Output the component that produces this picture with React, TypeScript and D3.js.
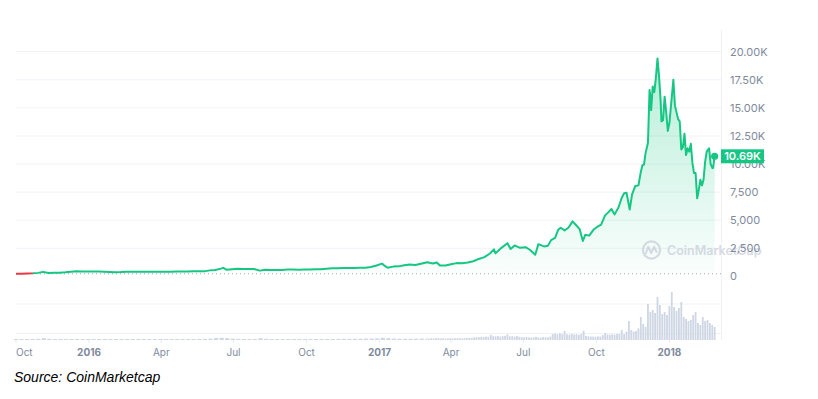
import * as d3 from "d3";

// Bitcoin price (USD)
const PRICES: [string, number][] = [
  ["2015-10-01", 237], ["2015-10-08", 243], ["2015-10-15", 255], ["2015-10-22", 275],
  ["2015-10-29", 314], ["2015-11-04", 403], ["2015-11-11", 305], ["2015-11-18", 335],
  ["2015-11-25", 328], ["2015-12-02", 360], ["2015-12-09", 417], ["2015-12-16", 455],
  ["2015-12-23", 442], ["2015-12-30", 428], ["2016-01-06", 431], ["2016-01-13", 432],
  ["2016-01-20", 420], ["2016-01-27", 395], ["2016-02-03", 370], ["2016-02-10", 381],
  ["2016-02-17", 416], ["2016-02-24", 423], ["2016-03-02", 423], ["2016-03-09", 412],
  ["2016-03-16", 416], ["2016-03-23", 418], ["2016-03-30", 414], ["2016-04-06", 422],
  ["2016-04-13", 424], ["2016-04-20", 442], ["2016-04-27", 446], ["2016-05-04", 446],
  ["2016-05-11", 454], ["2016-05-18", 453], ["2016-05-25", 448], ["2016-06-01", 536],
  ["2016-06-08", 577], ["2016-06-15", 694], ["2016-06-18", 756], ["2016-06-22", 593],
  ["2016-06-29", 640], ["2016-07-06", 670], ["2016-07-13", 655], ["2016-07-20", 665],
  ["2016-07-27", 655], ["2016-08-03", 513], ["2016-08-10", 592], ["2016-08-17", 573],
  ["2016-08-24", 580], ["2016-08-31", 573], ["2016-09-07", 612], ["2016-09-14", 609],
  ["2016-09-21", 595], ["2016-09-28", 604], ["2016-10-05", 611], ["2016-10-12", 636],
  ["2016-10-19", 630], ["2016-10-26", 678], ["2016-11-02", 730], ["2016-11-09", 721],
  ["2016-11-16", 744], ["2016-11-23", 739], ["2016-11-30", 742], ["2016-12-07", 769],
  ["2016-12-14", 780], ["2016-12-21", 834], ["2016-12-28", 975], ["2017-01-04", 1135],
  ["2017-01-08", 910], ["2017-01-11", 777], ["2017-01-18", 871], ["2017-01-25", 893],
  ["2017-02-01", 989], ["2017-02-08", 1052], ["2017-02-15", 1008], ["2017-02-22", 1120],
  ["2017-03-02", 1255], ["2017-03-09", 1150], ["2017-03-14", 1243], ["2017-03-18", 965],
  ["2017-03-25", 965], ["2017-04-01", 1080], ["2017-04-08", 1182], ["2017-04-15", 1180],
  ["2017-04-22", 1231], ["2017-04-29", 1347], ["2017-05-06", 1555], ["2017-05-13", 1720],
  ["2017-05-20", 2040], ["2017-05-25", 2410], ["2017-05-27", 2050], ["2017-06-03", 2520],
  ["2017-06-11", 2958], ["2017-06-15", 2440], ["2017-06-20", 2760], ["2017-06-27", 2540],
  ["2017-07-04", 2600], ["2017-07-10", 2330], ["2017-07-16", 1930], ["2017-07-20", 2870],
  ["2017-07-27", 2670], ["2017-08-01", 2720], ["2017-08-05", 3230], ["2017-08-10", 3420],
  ["2017-08-14", 4160], ["2017-08-17", 4330], ["2017-08-22", 4090], ["2017-08-27", 4350],
  ["2017-09-01", 4900], ["2017-09-05", 4600], ["2017-09-10", 4200], ["2017-09-14", 3150],
  ["2017-09-17", 3700], ["2017-09-22", 3630], ["2017-09-28", 4200], ["2017-10-02", 4400],
  ["2017-10-07", 4600], ["2017-10-12", 5430], ["2017-10-16", 5700], ["2017-10-20", 6000],
  ["2017-10-24", 5520], ["2017-10-29", 6150], ["2017-11-02", 7000], ["2017-11-05", 7400],
  ["2017-11-08", 7450], ["2017-11-12", 5950], ["2017-11-15", 7300], ["2017-11-19", 8040],
  ["2017-11-23", 8100], ["2017-11-26", 9300], ["2017-11-28", 9900], ["2017-11-30", 9950],
  ["2017-12-02", 10970], ["2017-12-05", 11900], ["2017-12-07", 16600], ["2017-12-08", 16000],
  ["2017-12-09", 14800], ["2017-12-11", 16900], ["2017-12-13", 16400], ["2017-12-15", 17700],
  ["2017-12-17", 19400], ["2017-12-19", 17800], ["2017-12-21", 15600], ["2017-12-22", 13800],
  ["2017-12-24", 13900], ["2017-12-26", 16000], ["2017-12-28", 14600], ["2017-12-30", 12950],
  ["2018-01-01", 13650], ["2018-01-03", 15200], ["2018-01-06", 17500], ["2018-01-08", 15200],
  ["2018-01-10", 14600], ["2018-01-12", 14000], ["2018-01-14", 13800], ["2018-01-16", 11300],
  ["2018-01-18", 11500], ["2018-01-20", 12700], ["2018-01-22", 10800], ["2018-01-24", 11400],
  ["2018-01-26", 11100], ["2018-01-28", 11800], ["2018-01-30", 10100], ["2018-02-01", 9200],
  ["2018-02-03", 9200], ["2018-02-05", 6950], ["2018-02-07", 7700], ["2018-02-09", 8600],
  ["2018-02-11", 8100], ["2018-02-13", 8600], ["2018-02-15", 10200], ["2018-02-17", 11100],
  ["2018-02-20", 11400], ["2018-02-22", 10000], ["2018-02-24", 9650], ["2018-02-25", 9650],
  ["2018-02-27", 10690],
];

// volume (bn USD): one bar per week from Oct 2015, then one bar per 3 days from Mar 2017
const VOL_WEEKLY_START = "2015-10-01";
const VOL_WEEKLY = [
  0.4, 0.4, 0.45, 0.5, 0.6, 0.9, 0.6, 0.5, 0.45, 0.5,
  0.5, 0.55, 0.5, 0.45, 0.4, 0.45, 0.5, 0.4, 0.4, 0.4,
  0.35, 0.4, 0.35, 0.35, 0.35, 0.4, 0.4, 0.4, 0.45, 0.4,
  0.45, 0.5, 0.5, 0.55, 0.6, 0.7, 1.0, 1.1, 0.9, 0.7,
  0.55, 0.5, 0.5, 0.5, 0.9, 0.6, 0.5, 0.45, 0.45, 0.45,
  0.4, 0.45, 0.45, 0.5, 0.5, 0.5, 0.55, 0.5, 0.55, 0.6,
  0.6, 0.6, 0.65, 0.7, 0.7, 0.8, 1.1, 0.9, 0.7, 0.65,
  0.6, 0.6, 0.65, 0.7,
];
const VOL_3DAY_START = "2017-03-01";
const VOL_3DAY = [
  0.8, 0.7, 0.9, 0.8, 0.9, 1.0, 0.8, 0.9, 0.7, 0.8, 0.9, 0.8, 0.9, 1.0, 0.9, 0.8, 0.9, 1.0, 1.1, 1.0,
  1.3, 1.5, 1.4, 1.6, 1.5, 1.7, 1.6, 2.6,
  1.9, 1.8, 2.0, 1.7, 1.9, 2.1, 2.8, 1.8, 1.9, 1.7, 2.0, 1.6,
  1.4, 1.3, 1.5, 1.3, 1.2, 1.4, 1.6, 1.3, 1.2, 1.5, 1.4, 1.3, 1.7,
  3.0, 3.3, 2.8, 3.4, 2.9, 4.5, 2.8, 2.6, 3.0, 2.7, 2.9, 2.5, 3.0, 4.6,
  2.0, 1.8, 1.7, 1.7, 1.6, 1.8, 1.7, 2.4, 3.5,
  2.8, 2.6, 2.9, 2.7, 3.1, 3.0, 5.0, 2.9, 4.2, 9.5, 5.0, 4.2, 4.5, 5.8, 11.5, 8.0, 6.5,
  18.0, 14.0, 15.0, 13.5, 21.5, 17.5, 13.0, 14.0, 12.5, 17.0, 24.0, 16.5, 14.5, 16.0, 19.0,
  11.5, 10.5, 9.5, 10.0, 12.5, 14.0, 8.5, 7.5, 11.5, 9.5, 10.0, 8.5, 7.5, 6.5,
];
const VOL_GRID = [3.3, 18];

const PRICE_TICKS = [0, 2500, 5000, 7500, 10000, 12500, 15000, 17500, 20000];
const DATE_TICKS = [
  "2015-10-01", "2016-01-01", "2016-04-01", "2016-07-01", "2016-10-01",
  "2017-01-01", "2017-04-01", "2017-07-01", "2017-10-01", "2018-01-01",
];
const RED_UNTIL = "2015-10-22";
const X_END = "2018-03-07";

const W = 818;
const H = 399;
const GREEN = "#16c784";
const RED = "#ea3943";
const GRID = "#eff2f5";
const LABEL = "#808a9d";
const FONT = "Inter, 'Noto Sans', sans-serif";

const parse = d3.utcParse("%Y-%m-%d");

export default function App() {
  const data = PRICES.map(([d, v]) => ({ date: parse(d)!, value: v }));
  const volumes = [
    ...VOL_WEEKLY.map((v, i) => ({ date: d3.utcDay.offset(parse(VOL_WEEKLY_START)!, i * 7), value: v, w: 4.2 })),
    ...VOL_3DAY.map((v, i) => ({ date: d3.utcDay.offset(parse(VOL_3DAY_START)!, i * 3), value: v, w: 1.8 })),
  ];

  const x = d3.scaleUtc().domain([data[0].date, parse(X_END)!]).range([16, 721]);
  const y = d3.scaleLinear().domain([0, 20000]).range([276.4, 51.7]);
  const yv = d3.scaleLinear().domain([0, 25]).range([340, 290]);

  const base = y(data[0].value);
  const line = d3.line<{ date: Date; value: number }>().x((d) => x(d.date)).y((d) => y(d.value));
  const area = d3
    .area<{ date: Date; value: number }>()
    .x((d) => x(d.date))
    .y0(base)
    .y1((d) => y(d.value));

  const last = data[data.length - 1];
  const redX = x(parse(RED_UNTIL)!);
  const fmtPrice = (v: number) => (v >= 10000 ? (v / 1000).toFixed(2) + "K" : d3.format(",")(v));
  const fmtDate = (d: Date) => (d.getUTCMonth() === 0 ? d3.utcFormat("%Y")(d) : d3.utcFormat("%b")(d));

  return (
    <svg width={W} height={H} style={{ position: "absolute", left: 0, top: 0, background: "#fff" }}>
      <defs>
        <linearGradient id="fill" x1="0" x2="0" y1={y(20000)} y2={base} gradientUnits="userSpaceOnUse">
          <stop offset="0" stopColor={GREEN} stopOpacity={0.32} />
          <stop offset="1" stopColor={GREEN} stopOpacity={0.02} />
        </linearGradient>
        <clipPath id="red">
          <rect x={0} y={0} width={redX} height={H} />
        </clipPath>
        <clipPath id="green">
          <rect x={redX} y={0} width={W - redX} height={H} />
        </clipPath>
      </defs>

      {/* price grid */}
      {PRICE_TICKS.filter((t) => t > 0).map((t) => (
        <line key={t} x1={16} x2={721} y1={y(t)} y2={y(t)} stroke={GRID} strokeWidth={1} />
      ))}
      {/* volume grid */}
      {VOL_GRID.map((t) => (
        <line key={t} x1={16} x2={721} y1={yv(t)} y2={yv(t)} stroke={GRID} strokeWidth={1} />
      ))}
      <line x1={721.5} x2={721.5} y1={30} y2={340} stroke={GRID} strokeWidth={1} />

      {/* area + baseline */}
      <path d={area(data)!} fill="url(#fill)" />
      <line x1={16} x2={721} y1={base} y2={base} stroke="#a6abb5" strokeWidth={1} strokeDasharray="1 3" />

      {/* watermark */}
      <g opacity={0.8}>
        <circle cx={651.5} cy={250} r={8.6} fill="none" stroke="#cdd2dd" strokeWidth={2.2} />
        <path
          d="M645.8,253.5 L648.2,246.8 L651.2,253 L654.2,246.8 L656.6,252"
          fill="none"
          stroke="#cdd2dd"
          strokeWidth={2}
          strokeLinejoin="round"
          strokeLinecap="round"
        />
        <text x={667} y={250} dominantBaseline="central" fontFamily={FONT} fontSize={12.5} fontWeight={600} fill="#cdd2dd">
          CoinMarketCap
        </text>
      </g>

      {/* price line */}
      <path d={line(data)!} fill="none" stroke={GREEN} strokeWidth={2} strokeLinejoin="round" clipPath="url(#green)" />
      <path d={line(data)!} fill="none" stroke={RED} strokeWidth={2} strokeLinejoin="round" clipPath="url(#red)" />
      <circle cx={x(last.date)} cy={y(last.value)} r={3.6} fill={GREEN} />

      {/* volume bars */}
      {volumes.map((v, i) => (
        <rect
          key={i}
          x={x(v.date) - v.w / 2}
          y={Math.min(yv(v.value), 339)}
          width={v.w}
          height={Math.max(340 - yv(v.value), 1)}
          fill="#cfd6e4"
        />
      ))}

      {/* y labels */}
      {PRICE_TICKS.map((t) => (
        <text key={t} x={730} y={y(t)} dominantBaseline="central" fontFamily={FONT} fontSize={11} fill={LABEL}>
          {fmtPrice(t)}
        </text>
      ))}

      {/* current price badge */}
      <rect x={721} y={y(last.value) - 7} width={43} height={14} fill={GREEN} />
      <text
        x={742.5}
        y={y(last.value)}
        textAnchor="middle"
        dominantBaseline="central"
        fontFamily={FONT}
        fontSize={11}
        fontWeight={600}
        fill="#fff"
      >
        {d3.format(".2f")(last.value / 1000)}K
      </text>

      {/* x axis */}
      {DATE_TICKS.map((s, i) => {
        const d = parse(s)!;
        const isYear = d.getUTCMonth() === 0;
        return (
          <g key={s}>
            <line x1={x(d)} x2={x(d)} y1={340} y2={343} stroke="#e6e9ee" />
            <text
              x={i === 0 ? 16 : x(d)}
              y={352}
              textAnchor={i === 0 ? "start" : "middle"}
              dominantBaseline="central"
              fontFamily={FONT}
              fontSize={10}
              fontWeight={isYear ? 700 : 400}
              fill={LABEL}
            >
              {fmtDate(d)}
            </text>
          </g>
        );
      })}

      <text x={14} y={382} fontFamily="'Liberation Sans', Arial, sans-serif" fontStyle="italic" fontSize={14} fill="#000">
        Source: CoinMarketcap
      </text>
    </svg>
  );
}
